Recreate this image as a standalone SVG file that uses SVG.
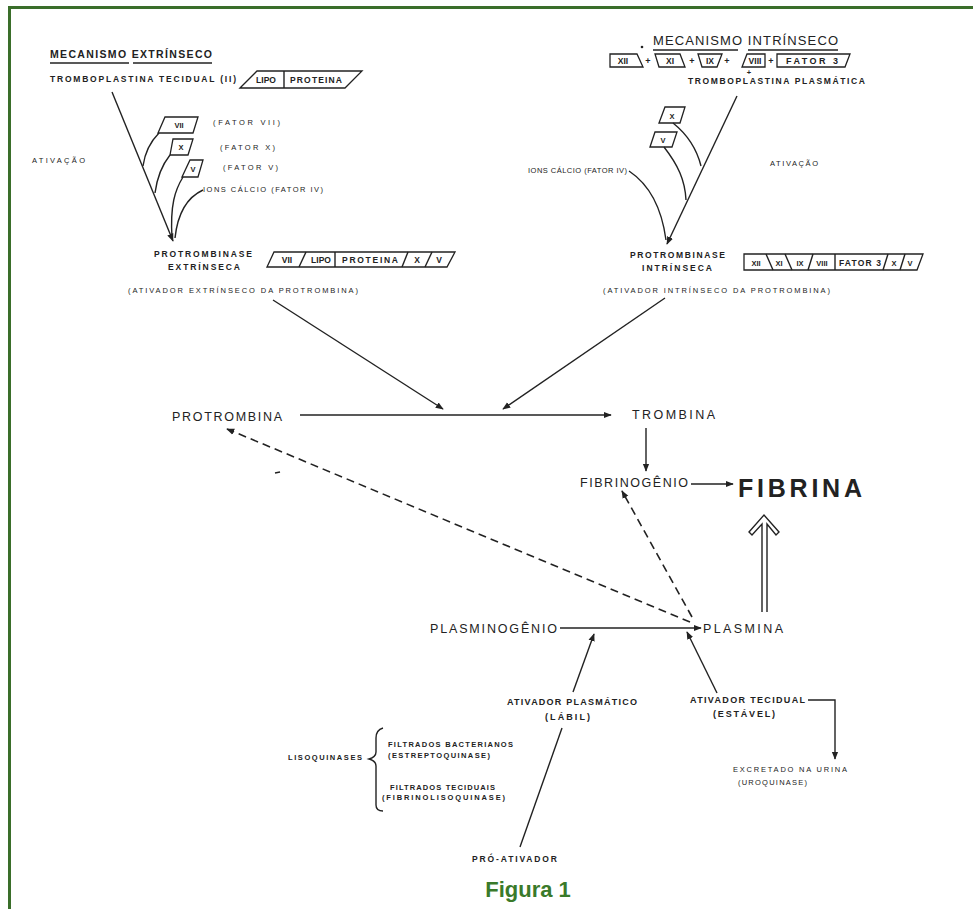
<svg xmlns="http://www.w3.org/2000/svg" width="973" height="909" viewBox="0 0 973 909">
<style>
.t{font-family:"Liberation Sans",Arial,sans-serif;fill:#222}
.b{font-weight:bold}
.s7{font-size:7.5px}
.s8{font-size:8.5px}
.s9{font-size:9px}
.s13{font-size:12.5px}
.ln{stroke:#222;stroke-width:1.4;fill:none}
.bx{stroke:#222;stroke-width:1.3;fill:#fff}
.ds{stroke:#222;stroke-width:1.6;fill:none;stroke-dasharray:8 5}
</style>
<defs>
<marker id="ah" viewBox="0 0 10 10" refX="9" refY="5" markerWidth="8" markerHeight="8" markerUnits="userSpaceOnUse" orient="auto">
<path d="M0,1 L10,5 L0,9 Z" fill="#222"/>
</marker>
</defs>
<rect x="0" y="0" width="973" height="909" fill="#fff"/>
<rect x="8" y="6" width="965" height="3" fill="#3a6e2a"/>
<rect x="8" y="6" width="3" height="903" fill="#3a6e2a"/>

<g id="extrinseco">
<text class="t b" x="50" y="58" font-size="10.5" textLength="162" lengthAdjust="spacing">MECANISMO EXTRÍNSECO</text>
<line class="ln" x1="50" y1="63" x2="129" y2="63"/>
<line class="ln" x1="133" y1="63" x2="212" y2="63"/>
<text class="t b s8" x="50" y="82" textLength="186" lengthAdjust="spacing">TROMBOPLASTINA TECIDUAL (II)</text>
<polygon class="bx" points="240,88 257,71 362,71 345,88"/>
<line class="ln" x1="284" y1="71" x2="284" y2="88"/>
<text class="t b s8" x="266" y="83" text-anchor="middle">LIPO</text>
<text class="t b s8" x="316" y="83" text-anchor="middle" textLength="52" lengthAdjust="spacing">PROTEINA</text>
<text class="t s7" x="32" y="163" textLength="53" lengthAdjust="spacing">ATIVAÇÃO</text>
</g>

<g id="fator-vii-e">
<polygon class="bx" points="158,133 165,117 198,117 193,133"/>
<text class="t b s7" x="179" y="128" text-anchor="middle">VII</text>
<text class="t s7" x="213" y="125" textLength="67" lengthAdjust="spacing">(FATOR VII)</text>
</g>
<g id="fator-x-e">
<polygon class="bx" points="170,155 173,139 193,139 188,155"/>
<text class="t b s7" x="181" y="150" text-anchor="middle">X</text>
<text class="t s7" x="220" y="150" textLength="55" lengthAdjust="spacing">(FATOR X)</text>
</g>
<g id="fator-v-e">
<polygon class="bx" points="182,177 190,160 203,160 198,177"/>
<text class="t b s7" x="193" y="172" text-anchor="middle">V</text>
<text class="t s7" x="223" y="170" textLength="55" lengthAdjust="spacing">(FATOR V)</text>
</g>
<g id="calcio-e">
<text class="t s7" x="203" y="192" textLength="120" lengthAdjust="spacing">IONS CÁLCIO (FATOR IV)</text>
</g>

<g id="protrombinase-ext">
<text class="t b s8" x="154" y="257" textLength="98" lengthAdjust="spacing">PROTROMBINASE</text>
<text class="t b s8" x="168" y="270" textLength="72" lengthAdjust="spacing">EXTRÍNSECA</text>
<polygon class="bx" points="267,267 274,252 455,252 447,267"/>
<line class="ln" x1="306" y1="252" x2="299" y2="267"/>
<line class="ln" x1="335" y1="252" x2="335" y2="267"/>
<line class="ln" x1="408" y1="252" x2="402" y2="267"/>
<line class="ln" x1="432" y1="252" x2="425" y2="267"/>
<text class="t b s8" x="287" y="263" text-anchor="middle">VII</text>
<text class="t b s8" x="321" y="263" text-anchor="middle">LIPO</text>
<text class="t b s8" x="370" y="263" text-anchor="middle" textLength="56" lengthAdjust="spacing">PROTEINA</text>
<text class="t b s8" x="417" y="263" text-anchor="middle">X</text>
<text class="t b s8" x="439" y="263" text-anchor="middle">V</text>
<text class="t s7" x="128" y="293" textLength="230" lengthAdjust="spacing">(ATIVADOR EXTRÍNSECO DA PROTROMBINA)</text>
</g>

<g id="intrinseco">
<circle cx="642" cy="47" r="1.3" fill="#222"/>
<text class="t" x="653" y="45" font-size="13" textLength="185" lengthAdjust="spacing">MECANISMO INTRÍNSECO</text>
<line class="ln" x1="653" y1="50" x2="738" y2="50"/>
<line class="ln" x1="748" y1="50" x2="838" y2="50"/>
<polygon class="bx" points="610,54 637,54 643,67 610,67"/>
<text class="t b s8" x="623" y="64" text-anchor="middle">XII</text>
<text class="t b s9" x="648" y="64" text-anchor="middle">+</text>
<polygon class="bx" points="655,54 680,54 685,67 659,67"/>
<text class="t b s8" x="670" y="64" text-anchor="middle">XI</text>
<text class="t b s9" x="692" y="64" text-anchor="middle">+</text>
<polygon class="bx" points="698,54 722,54 717,67 702,67"/>
<text class="t b s8" x="710" y="64" text-anchor="middle">IX</text>
<text class="t b s9" x="727" y="64" text-anchor="middle">+</text>
<polygon class="bx" points="747,54 765,54 765,67 742,67"/>
<text class="t b s8" x="755" y="64" text-anchor="middle">VIII</text>
<text class="t b s9" x="771" y="64" text-anchor="middle">+</text>
<polygon class="bx" points="777,54 850,54 845,67 777,67"/>
<text class="t b" x="812" y="64" font-size="9" text-anchor="middle" textLength="52" lengthAdjust="spacing">FATOR 3</text>
<text class="t b s7" x="749" y="75" text-anchor="middle">+</text>
<text class="t b s8" x="688" y="84" textLength="177" lengthAdjust="spacing">TROMBOPLASTINA PLASMÁTICA</text>
<text class="t s7" x="770" y="166" textLength="48" lengthAdjust="spacing">ATIVAÇÃO</text>
</g>
<g id="fator-x-i">
<polygon class="bx" points="659,123 665,107 685,107 680,123"/>
<text class="t b s7" x="672" y="119" text-anchor="middle">X</text>
</g>
<g id="fator-v-i">
<polygon class="bx" points="650,147 655,132 677,132 672,147"/>
<text class="t b s7" x="663" y="143" text-anchor="middle">V</text>
</g>
<g id="calcio-i">
<text class="t s7" x="528" y="173" textLength="99" lengthAdjust="spacing">IONS CÁLCIO (FATOR IV)</text>
</g>

<g id="protrombinase-int">
<text class="t b s8" x="630" y="258" textLength="95" lengthAdjust="spacing">PROTROMBINASE</text>
<text class="t b s8" x="642" y="271" textLength="70" lengthAdjust="spacing">INTRÍNSECA</text>
<polygon class="bx" points="744,254 923,254 917,270 744,270"/>
<line class="ln" x1="766" y1="254" x2="773" y2="270"/>
<line class="ln" x1="785" y1="254" x2="792" y2="270"/>
<line class="ln" x1="813" y1="254" x2="808" y2="270"/>
<line class="ln" x1="835" y1="254" x2="835" y2="270"/>
<line class="ln" x1="888" y1="254" x2="883" y2="270"/>
<line class="ln" x1="905" y1="254" x2="900" y2="270"/>
<text class="t b s7" x="756" y="266" text-anchor="middle">XII</text>
<text class="t b s7" x="779" y="266" text-anchor="middle">XI</text>
<text class="t b s7" x="800" y="266" text-anchor="middle">IX</text>
<text class="t b s7" x="822" y="266" text-anchor="middle">VIII</text>
<text class="t b s8" x="860" y="266" text-anchor="middle" textLength="42" lengthAdjust="spacing">FATOR 3</text>
<text class="t b s7" x="894" y="266" text-anchor="middle">X</text>
<text class="t b s7" x="910" y="266" text-anchor="middle">V</text>
<text class="t s7" x="603" y="293" textLength="227" lengthAdjust="spacing">(ATIVADOR INTRÍNSECO DA PROTROMBINA)</text>
</g>

<g id="protrombina"><text class="t s13" x="172" y="421" textLength="110" lengthAdjust="spacing">PROTROMBINA</text></g>
<g id="trombina"><text class="t s13" x="632" y="419" textLength="83" lengthAdjust="spacing">TROMBINA</text></g>
<g id="fibrinogenio"><text class="t s13" x="580" y="487" textLength="108" lengthAdjust="spacing">FIBRINOGÊNIO</text></g>
<g id="fibrina"><text class="t b" x="738" y="497" font-size="25" textLength="124" lengthAdjust="spacing">FIBRINA</text></g>
<g id="plasminogenio"><text class="t s13" x="430" y="633" textLength="127" lengthAdjust="spacing">PLASMINOGÊNIO</text></g>
<g id="plasmina"><text class="t s13" x="703" y="633" textLength="80" lengthAdjust="spacing">PLASMINA</text></g>
<g id="ativador-plasmatico">
<text class="t b s9" x="507" y="705" textLength="130" lengthAdjust="spacing">ATIVADOR PLASMÁTICO</text>
<text class="t b s9" x="545" y="720" textLength="45" lengthAdjust="spacing">(LÁBIL)</text>
</g>
<g id="ativador-tecidual">
<text class="t b s9" x="690" y="703" textLength="115" lengthAdjust="spacing">ATIVADOR TECIDUAL</text>
<text class="t b s9" x="713" y="717" textLength="62" lengthAdjust="spacing">(ESTÁVEL)</text>
</g>
<g id="excretado">
<text class="t s7" x="733" y="772" textLength="114" lengthAdjust="spacing">EXCRETADO NA URINA</text>
<text class="t s7" x="738" y="785" textLength="69" lengthAdjust="spacing">(UROQUINASE)</text>
</g>
<g id="pro-ativador"><text class="t b s8" x="472" y="862" textLength="85" lengthAdjust="spacing">PRÓ-ATIVADOR</text></g>
<g id="lisoquinases">
<text class="t b s7" x="288" y="760" textLength="74" lengthAdjust="spacing">LISOQUINASES</text>
<path class="ln" d="M383,728 Q376,730 376,738 L376,752 Q376,757 369,759 Q376,761 376,766 L376,805 Q376,811 383,811"/>
<text class="t b s7" x="388" y="747" textLength="125" lengthAdjust="spacing">FILTRADOS BACTERIANOS</text>
<text class="t b s7" x="388" y="758" textLength="102" lengthAdjust="spacing">(ESTREPTOQUINASE)</text>
<text class="t b s7" x="390" y="790" textLength="105" lengthAdjust="spacing">FILTRADOS TECIDUAIS</text>
<text class="t b s7" x="382" y="800" textLength="123" lengthAdjust="spacing">(FIBRINOLISOQUINASE)</text>
</g>

<g id="connectors">
<path class="ln" d="M112,92 L173,241" marker-end="url(#ah)"/>
<path class="ln" d="M159,133 C150,142 145,152 143,166"/>
<path class="ln" d="M170,155 C162,165 157,178 155,193"/>
<path class="ln" d="M183,177 C175,190 170,205 172,238"/>
<path class="ln" d="M203,190 C190,196 178,210 175,238"/>
<path class="ln" d="M737,96 L667,244" marker-end="url(#ah)"/>
<path class="ln" d="M673,123 C688,135 697,150 701,166"/>
<path class="ln" d="M664,147 C678,165 685,180 686,200"/>
<path class="ln" d="M629,171 C650,185 662,210 666,240"/>
<path class="ln" d="M273,300 L443,409" marker-end="url(#ah)"/>
<path class="ln" d="M665,298 L503,409" marker-end="url(#ah)"/>
<path class="ln" d="M300,415 L611,415" marker-end="url(#ah)"/>
<path class="ln" d="M646,428 L646,471" marker-end="url(#ah)"/>
<path class="ln" d="M691,484 L733,484" marker-end="url(#ah)"/>
<path class="ds" d="M690,622 L227,429" marker-end="url(#ah)"/>
<path class="ds" d="M692,617 L622,491" marker-end="url(#ah)"/>
<path d="M762,612 L762,524 L752,535 L749,532 L764,515 L779,532 L776,535 L767,524 L767,612" fill="#fff" stroke="#222" stroke-width="1.4"/>
<path class="ln" d="M560,628 L701,628" marker-end="url(#ah)"/>
<path class="ln" d="M573,692 L594,634" marker-end="url(#ah)"/>
<path class="ln" d="M717,693 L687,632" marker-end="url(#ah)"/>
<path class="ln" d="M562,728 L520,847"/>
<path class="ln" d="M808,700 L835,700 L835,759" marker-end="url(#ah)"/>
<line class="ln" x1="275" y1="473" x2="280" y2="472"/>
</g>

<text x="528" y="897" text-anchor="middle" font-family="Liberation Sans, Arial, sans-serif" font-weight="bold" font-size="22" fill="#3a7a2a">Figura 1</text>
</svg>
